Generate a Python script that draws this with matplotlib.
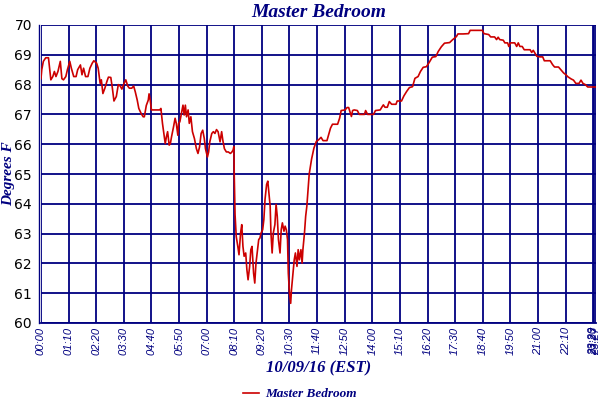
import matplotlib
matplotlib.use("Agg")
import matplotlib.pyplot as plt

# ── data: minutes after midnight, temperature (deg F) ────────────────────────
minutes = [
    0, 2, 6, 12, 19, 21, 25, 30, 34, 38, 43, 49, 53, 57, 63, 67, 73, 77, 83, 89,
    93, 100, 104, 108, 113, 119, 124, 130, 134, 141, 145, 150, 153, 157, 162,
    167, 171, 177, 181, 185, 191, 196, 201, 205, 211, 215, 220, 224, 230, 235,
    239, 244, 248, 254, 259, 262, 267, 272, 274, 277, 280, 291, 301, 304, 308,
    312, 315, 318, 321, 325, 328, 331, 336, 340, 343, 347, 349, 352, 356, 360,
    363, 366, 369, 373, 376, 380, 384, 389, 394, 398, 402, 406, 410, 414, 417,
    422, 425, 428, 433, 437, 441, 445, 449, 454, 458, 461, 465, 470, 475, 480,
    483, 487, 489, 490, 492, 495, 499, 502, 506, 509, 512, 515, 519, 522, 525,
    529, 532, 535, 539, 542, 545, 549, 552, 555, 558, 562, 565, 568, 572, 575,
    577, 581, 583, 586, 589, 593, 596, 599, 602, 606, 609, 612, 616, 619, 622,
    625, 627, 630, 633, 635, 638, 642, 645, 649, 652, 655, 659, 662, 664, 668,
    671, 674, 677, 680, 686, 692, 698, 704, 710, 715, 725, 729, 734, 739, 752,
    757, 761, 771, 776, 780, 784, 787, 790, 794, 802, 807, 820, 823, 828, 843,
    848, 860, 864, 868, 872, 878, 883, 889, 900, 903, 914, 920, 927, 934, 942,
    948, 956, 962, 969, 977, 984, 992, 1001, 1007, 1015, 1023, 1036, 1043,
    1053, 1057, 1070, 1084, 1088, 1104, 1119, 1123, 1135, 1140, 1150, 1155,
    1159, 1163, 1172, 1176, 1183, 1186, 1190, 1201, 1206, 1210, 1214, 1220,
    1225, 1240, 1244, 1248, 1252, 1257, 1265, 1272, 1276, 1291, 1297, 1302,
    1312, 1319, 1325, 1330, 1336, 1344, 1350, 1356, 1364, 1369, 1374, 1380,
    1386, 1405,
]
temps = [
    68.2, 68.5, 68.78, 68.9, 68.9, 68.66, 68.16, 68.27, 68.44, 68.27, 68.44,
    68.78, 68.2, 68.16, 68.27, 68.5, 68.78, 68.55, 68.27, 68.27, 68.5, 68.66,
    68.33, 68.55, 68.27, 68.27, 68.55, 68.72, 68.8, 68.72, 68.55, 68.04, 68.16,
    67.7, 67.88, 68.1, 68.25, 68.24, 67.88, 67.45, 67.6, 68.0, 67.95, 67.85,
    68.05, 68.16, 67.95, 67.88, 67.88, 67.95, 67.76, 67.48, 67.2, 67.03, 66.92,
    66.92, 67.3, 67.48, 67.69, 67.48, 67.15, 67.15, 67.15, 67.2, 66.7, 66.3,
    66.02, 66.25, 66.42, 65.97, 66.02, 66.25, 66.58, 66.87, 66.7, 66.3, 66.7,
    66.75, 67.03, 67.31, 66.98, 67.31, 66.92, 67.15, 66.7, 66.92, 66.42, 66.19,
    65.85, 65.69, 65.91, 66.36, 66.47, 66.19, 65.85, 65.57, 65.74, 66.08, 66.36,
    66.42, 66.36, 66.49, 66.42, 66.08, 66.42, 66.13, 65.85, 65.74, 65.74, 65.69,
    65.72, 65.8, 65.92, 64.93, 63.64, 62.9, 62.57, 62.29, 63.02, 63.3, 62.57,
    62.24, 62.35, 61.79, 61.45, 61.9, 62.46, 62.57, 61.67, 61.34, 62.0, 62.46,
    62.8, 62.85, 63.02, 63.13, 63.47, 64.15, 64.65, 64.76, 64.48, 63.92, 63.02,
    62.35, 63.02, 63.3, 63.98, 63.58, 62.8, 62.35, 63.13, 63.36, 63.08, 63.25,
    63.13, 62.8, 61.67, 61.0, 60.66, 61.11, 61.56, 62.12, 62.35, 61.9, 62.46,
    62.12, 62.46, 62.01, 62.46, 63.02, 63.58, 63.92, 64.48, 65.0, 65.5, 65.87,
    66.09, 66.15, 66.23, 66.12, 66.12, 66.31, 66.54, 66.67, 66.67, 66.87, 67.13,
    67.15, 67.23, 67.23, 67.06, 66.93, 67.13, 67.15, 67.13, 67.0, 67.0, 67.13,
    67.0, 67.0, 67.13, 67.15, 67.24, 67.32, 67.24, 67.24, 67.43, 67.34, 67.34,
    67.45, 67.45, 67.62, 67.77, 67.9, 67.93, 68.21, 68.27, 68.44, 68.58, 68.6,
    68.74, 68.92, 68.94, 69.11, 69.27, 69.39, 69.41, 69.5, 69.61, 69.7, 69.7,
    69.71, 69.82, 69.82, 69.82, 69.71, 69.68, 69.6, 69.6, 69.51, 69.59, 69.51,
    69.49, 69.4, 69.4, 69.28, 69.4, 69.4, 69.28, 69.4, 69.28, 69.28, 69.17,
    69.17, 69.08, 69.15, 69.06, 68.95, 68.93, 68.93, 68.8, 68.8, 68.67, 68.59,
    68.59, 68.48, 68.39, 68.34, 68.26, 68.19, 68.15, 68.04, 68.04, 68.15, 68.04,
    68.0, 67.92, 67.92,
]

tick_minutes = [0, 70, 140, 210, 280, 350, 420, 490, 560, 630, 700, 770, 840,
                910, 980, 1050, 1120, 1190, 1260, 1330, 1400, 1403, 1407]
tick_labels = ["00:00", "01:10", "02:20", "03:30", "04:40", "05:50", "07:00",
               "08:10", "09:20", "10:30", "11:40", "12:50", "14:00", "15:10",
               "16:20", "17:30", "18:40", "19:50", "21:00", "22:10", "23:20",
               "23:23", "23:27"]
y_ticks = [60, 61, 62, 63, 64, 65, 66, 67, 68, 69, 70]

NAVY = "#000080"
RED = "#cc0000"
SERIF = "Liberation Serif"
SANS = "Liberation Sans"

fig = plt.figure(figsize=(6, 4), dpi=100)
ax = fig.add_axes([0.0683, 0.1925, 0.925, 0.745])

ax.plot(minutes, temps, color=RED, linewidth=1.2, zorder=3)

ax.set_xlim(0, 1407)
ax.set_ylim(60, 70)
ax.set_xticks(tick_minutes)
ax.set_xticklabels(tick_labels, rotation=90, fontsize=8, style="italic",
                   family=SANS, color=NAVY, va="top")
ax.set_yticks(y_ticks)
ax.set_yticklabels([str(v) for v in y_ticks], fontsize=7, style="italic",
                   family=SANS, color=NAVY)
ax.tick_params(axis="both", length=0)
ax.tick_params(axis="y", pad=5)
ax.tick_params(axis="x", pad=3)

ax.grid(True, color=NAVY, linewidth=1.3)
for side in ["top", "right"]:
    ax.spines[side].set_visible(False)
ax.spines["bottom"].set_color(NAVY)
ax.spines["bottom"].set_linewidth(1.3)
ax.spines["left"].set_color(NAVY)
ax.spines["left"].set_linewidth(1.0)
ax.spines["left"].set_position(("outward", 1.5))

ax.set_title("Master Bedroom", family=SERIF, style="italic", weight="bold",
             fontsize=14, color=NAVY, pad=6)
ax.set_xlabel("10/09/16 (EST)", family=SERIF, style="italic", weight="bold",
              fontsize=12, color=NAVY, labelpad=4)
ax.set_ylabel("Degrees F", family=SERIF, style="italic", weight="bold",
              fontsize=11, color=NAVY)
ax.yaxis.set_label_coords(-0.046, 0.5)

leg = fig.legend(["Master Bedroom"], loc="lower center",
                 bbox_to_anchor=(0.5, -0.03), frameon=False,
                 handlelength=1.2, handletextpad=0.5,
                 prop={"family": SERIF, "style": "italic", "weight": "bold",
                       "size": 9.5})
for t in leg.get_texts():
    t.set_color(NAVY)

fig.savefig("out.png", dpi=100)
